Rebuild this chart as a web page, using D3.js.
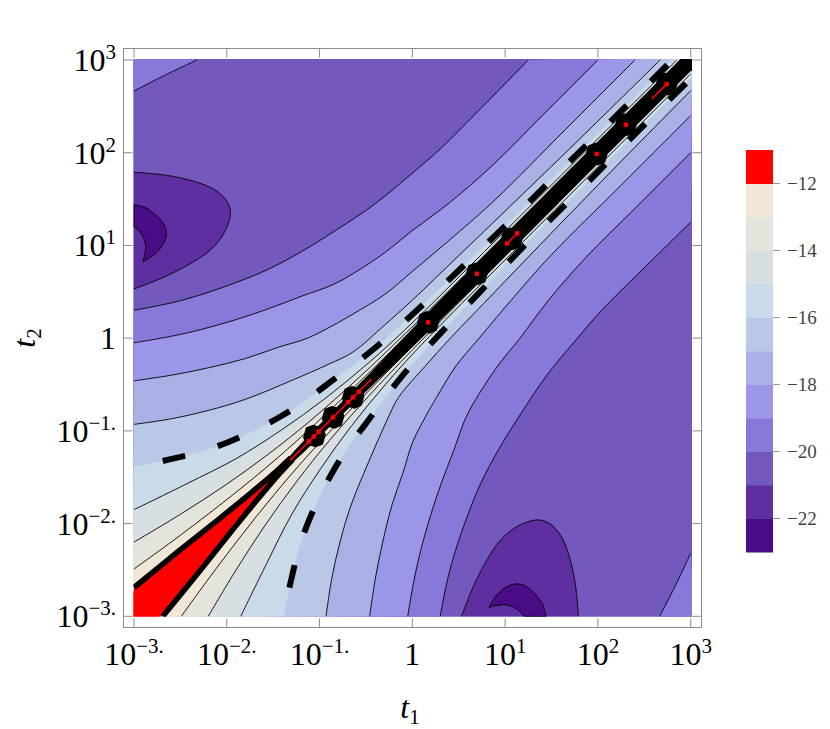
<!DOCTYPE html>
<html><head><meta charset="utf-8">
<script src="https://cdn.jsdelivr.net/npm/d3@7"></script>
<style>body{margin:0;background:#fff}svg{display:block}</style>
</head><body>
<svg id="c" width="830" height="729"></svg>
<script>
// ---------- data (exponents: [log10 t1, log10 t2], upper triangle t2>t1; lower half is the mirror) ----------
const tickExps = [-3,-2,-1,0,1,2,3];
const levels = [-23,-22,-21,-20,-19,-18,-17,-16,-15,-14,-13,-12,-11];
const bandColors = ["#4a0c86","#5f2fa1","#7358bd","#8878d9","#9b96e7","#aab0e6","#b9c8e7","#c9dbe8","#d7dfe2","#e5e4dc","#f1e7d6","#ff0000"];
const colorbarTicks = [-22,-20,-18,-16,-14,-12];

const contour20Corner = [[-3,2.665],[-2.66,2.84],[-2.32,3]];
const contour21Pocket = [[-3,1.79],[-2.64,1.755],[-2.35,1.69],[-2.13,1.6],[-2.0,1.48],[-1.96,1.36],[-1.99,1.22],[-2.07,1.07],[-2.2,0.93],[-2.4,0.8],[-2.65,0.67],[-3,0.53]];
const contour22Outer = [[-3,1.44],[-2.87,1.405],[-2.77,1.33],[-2.68,1.23],[-2.65,1.13],[-2.68,1.02],[-2.76,0.92],[-2.85,0.855],[-2.905,0.828]];
const contour22Inner = [[-2.905,0.828],[-2.885,0.9],[-2.875,1.0],[-2.905,1.1],[-2.95,1.16],[-3,1.2]];
const contour20 = [[-3,0.3],[-2.6,0.38],[-2.29,0.465],[-1.9,0.6],[-1.57,0.735],[-1.2,0.93],[-0.83,1.16],[-0.4,1.45],[0,1.78],[0.3,2.04],[0.7,2.44],[1.25,3]];
const contour19 = [[-3,-0.05],[-2.6,0.02],[-2.29,0.09],[-1.9,0.2],[-1.57,0.31],[-1.2,0.45],[-0.85,0.58],[-0.6,0.72],[-0.3,0.92],[0,1.16],[0.4,1.46],[0.87,1.87],[1.4,2.4],[2,3]];
const contour18 = [[-3,-0.46],[-2.6,-0.4],[-2.2,-0.32],[-1.8,-0.22],[-1.45,-0.1],[-1.13,0],[-0.85,0.14],[-0.64,0.26],[-0.3,0.47],[0,0.72],[0.45,1.1],[0.9,1.5],[1.65,2.25],[2.4,3]];
const contour17 = [[-3,-0.93],[-2.6,-0.87],[-2.2,-0.78],[-1.8,-0.66],[-1.285,-0.45],[-0.9,-0.28],[-0.64,-0.15],[-0.3,0.14],[0,0.41],[0.5,0.89],[1,1.37],[1.8,2.145],[2.67,3]];
const contour16 = [[-3,-1.385],[-2.69,-1.325],[-2.58,-1.3],[-2.28,-1.225],[-1.98,-1.12],[-1.7,-0.995],[-1.42,-0.845],[-1.17,-0.69],[-0.92,-0.5],[-0.67,-0.315],[-0.42,-0.12],[-0.18,0.09],[0.06,0.31],[0.51,0.74],[1,1.21],[1.6,1.81],[2.2,2.4],[2.8,3]];
const contour15 = [[-3,-1.85],[-2.43,-1.57],[-1.9,-1.3],[-1.41,-0.99],[-0.945,-0.655],[-0.505,-0.295],[-0.085,0.085],[0.9225,1.0775],[2.85,3]];
const contour14 = [[-3,-2.2],[-2.5,-1.9],[-2.015,-1.585],[-1.55,-1.25],[-1.105,-0.895],[-0.575,-0.425],[-0.0625,0.0625],[0.9425,1.0575],[2.89,3]];
const contour13 = [[-3,-2.49],[-2.6,-2.2],[-2.145,-1.855],[-1.7,-1.5],[-1.27,-1.13],[-0.65,-0.55],[-0.045,0.045],[2.92,3]];
const contour12 = [[-3,-2.69],[-2.51,-2.29],[-2.065,-1.935],[-1.735,-1.665],[-1.465,-1.435],[-1.31,-1.29],[-0.01,0.01],[2.98,3]];
// black band along the diagonal: [log10 of position along diagonal, width in log10(t2/t1)]
const ridgeBand = [[-1.47,0.03],[-1.2,0.06],[-0.8,0.07],[-0.4,0.08],[0,0.1],[0.5,0.115],[1.5,0.12],[3.05,0.12]];
const clusterT = [0.088,0.14,0.23,1.48,4.95,11.8,97,200,550,1000];
const markT = [0.077,0.087,0.098,0.14,0.204,0.23,0.265,1.48,4.95,10.5,13.5,97,200,550];
const redSegments = [[0.048,0.36],[10.5,13.5],[380,550]];

// ---------- scales ----------
const x = d3.scaleLog().domain([1e-3,1e3]).range([134,690.7]);
const y = d3.scaleLog().domain([1e-3,1e3]).range([616.3,60]);
const cb = d3.scaleLinear().domain([-23,-11]).range([552,150]);
const X = e => x(Math.pow(10,e)), Y = e => y(Math.pow(10,e));
const curve = d3.line().x(p=>X(p[0])).y(p=>Y(p[1])).curve(d3.curveCatmullRom.alpha(0.5));
const mirror = pts => pts.map(p=>[p[1],p[0]]);
const cont = s => s.replace(/^M/,"L");
const pt = (u,v) => "L"+X(u)+","+Y(v);
const col = L => bandColors[L-levels[0]];

const svg = d3.select("#c");
svg.append("defs").append("clipPath").attr("id","clip").append("rect")
  .attr("x",x(1e-3)-0.7).attr("y",y(1e3)-1).attr("width",x(1e3)-x(1e-3)+2).attr("height",y(1e-3)-y(1e3)+1.5);
const g = svg.append("g").attr("clip-path","url(#clip)");

// background band
g.append("rect").attr("x",x(1e-3)-2).attr("y",y(1e3)-2).attr("width",x(1e3)-x(1e-3)+4).attr("height",y(1e-3)-y(1e3)+4).attr("fill",col(-21));
// corner pockets (f > -20)
[contour20Corner, mirror(contour20Corner)].forEach((c,i)=>{
  const corner = i===0 ? pt(-3.05,3.05) : pt(3.05,-3.05);
  g.append("path").attr("d",curve(c)+corner+"Z").attr("fill",col(-20));
});
// diagonal bands
const diag = [[-20,contour20],[-19,contour19],[-18,contour18],[-17,contour17],[-16,contour16],[-15,contour15],[-14,contour14],[-13,contour13],[-12,contour12]];
diag.forEach(([L,c])=>{
  const d = curve(c) + pt(3.05,3.05) + cont(curve(mirror(c).reverse())) + pt(-3.05,-3.05) + "Z";
  g.append("path").attr("d",d).attr("fill",col(L));
});
// minimum pockets
[contour21Pocket, mirror(contour21Pocket)].forEach(c=>{
  g.append("path").attr("d",curve(c)+"Z").attr("fill",col(-22));
});
const crescent = c => curve(c[0]) + cont(curve(c[1])) + "Z";
[[contour22Outer,contour22Inner],[mirror(contour22Outer),mirror(contour22Inner)]].forEach(c=>{
  g.append("path").attr("d",crescent(c)).attr("fill",col(-23)).attr("stroke","#000").attr("stroke-width",0.9);
});
// thin contour lines
const thin = [contour20Corner,contour21Pocket,contour20,contour19,contour18,contour17,contour15,contour14,contour13];
thin.forEach(c=>{
  [c, mirror(c)].forEach(cc=>g.append("path").attr("d",curve(cc)).attr("fill","none").attr("stroke","#000").attr("stroke-width",0.9));
});
// thick -12 wedge boundary
const wedge = contour12.slice(0,6);
[wedge, mirror(wedge)].forEach(c=>g.append("path").attr("d",curve(c)).attr("fill","none").attr("stroke","#000").attr("stroke-width",5.5));
// black ridge band along the diagonal
const upper = ridgeBand.map(([s,w])=>[s-w/2,s+w/2]);
const lower = ridgeBand.map(([s,w])=>[s+w/2,s-w/2]).reverse();
g.append("path").attr("d",curve(upper)+cont(curve(lower))+"Z").attr("fill","#000");
// clusters on the ridge
clusterT.forEach(t=>{
  const cx=x(t),cy=y(t);
  g.append("polygon").attr("points",[[0,-12],[7,-9],[12,0],[9,7],[0,12],[-7,9],[-12,0],[-9,-7]].map(p=>[cx+p[0],cy+p[1]].join(",")).join(" "))
    .attr("fill","#000").attr("transform",`rotate(45,${cx},${cy})`);
});
// dashed -16 curve
[contour16.slice(1), mirror(contour16.slice(1))].forEach(c=>g.append("path").attr("d",curve(c)).attr("fill","none")
  .attr("stroke","#000").attr("stroke-width",6).attr("stroke-dasharray","23,34"));
// red core
redSegments.forEach(([a,b])=>g.append("line").attr("x1",x(a)).attr("y1",y(a)).attr("x2",x(b)).attr("y2",y(b)).attr("stroke","#f00").attr("stroke-width",1.6));
g.selectAll("rect.dot").data(markT).join("rect").attr("class","dot")
  .attr("x",t=>x(t)-2.2).attr("y",t=>y(t)-2.2).attr("width",4.4).attr("height",4.4).attr("fill","#f00");

// ---------- frame and ticks ----------
const fx0=123.5, fx1=701.5, fy0=48.5, fy1=627.5, tl=9, frameCol="#8c8c8c";
svg.append("rect").attr("x",fx0).attr("y",fy0).attr("width",fx1-fx0).attr("height",fy1-fy0).attr("fill","none").attr("stroke",frameCol).attr("stroke-width",1);
tickExps.forEach(e=>{
  const px=X(e), py=Y(e);
  [[px,fy1,px,fy1-tl],[px,fy0,px,fy0+tl],[fx0,py,fx0+tl,py],[fx1,py,fx1-tl,py]].forEach(l=>
    svg.append("line").attr("x1",l[0]).attr("y1",l[1]).attr("x2",l[2]).attr("y2",l[3]).attr("stroke",frameCol).attr("stroke-width",1));
});
const font = "'Liberation Serif','Times New Roman',serif";
function lab(sel,e){
  if(e===0){sel.text("1");return;}
  sel.append("tspan").text("10");
  sel.append("tspan").attr("dy",-12).attr("font-size",21).text(e<0?("\u2212"+(-e)+"."):String(e));
}
tickExps.forEach(e=>{
  lab(svg.append("text").attr("x",X(e)).attr("y",665).attr("text-anchor","middle").attr("font-family",font).attr("font-size",32),e);
  lab(svg.append("text").attr("x",116).attr("y",Y(e)+11).attr("text-anchor","end").attr("font-family",font).attr("font-size",32),e);
});
// axis titles
const t1 = svg.append("text").attr("x",410).attr("y",718).attr("text-anchor","middle").attr("font-family",font).attr("font-size",32);
t1.append("tspan").attr("font-style","italic").text("t");
t1.append("tspan").attr("dy",6).attr("font-size",21).text("1");
const t2 = svg.append("text").attr("transform","translate(35,338) rotate(-90)").attr("text-anchor","middle").attr("font-family",font).attr("font-size",32);
t2.append("tspan").attr("font-style","italic").text("t");
t2.append("tspan").attr("dy",6).attr("font-size",21).text("2");

// ---------- colorbar ----------
const cbx=746, cbw=27;
levels.slice(0,-1).forEach((L,i)=>{
  svg.append("rect").attr("x",cbx).attr("y",cb(L+1)).attr("width",cbw).attr("height",cb(L)-cb(L+1)+0.5).attr("fill",bandColors[i]);
});
colorbarTicks.forEach(v=>{
  svg.append("line").attr("x1",cbx+cbw).attr("x2",cbx+cbw+7).attr("y1",cb(v)).attr("y2",cb(v)).attr("stroke","#999");
  svg.append("text").attr("x",787).attr("y",cb(v)+6).attr("font-family",font).attr("font-size",19).attr("fill","#444").text("\u2212"+(-v));
});
</script></body></html>
